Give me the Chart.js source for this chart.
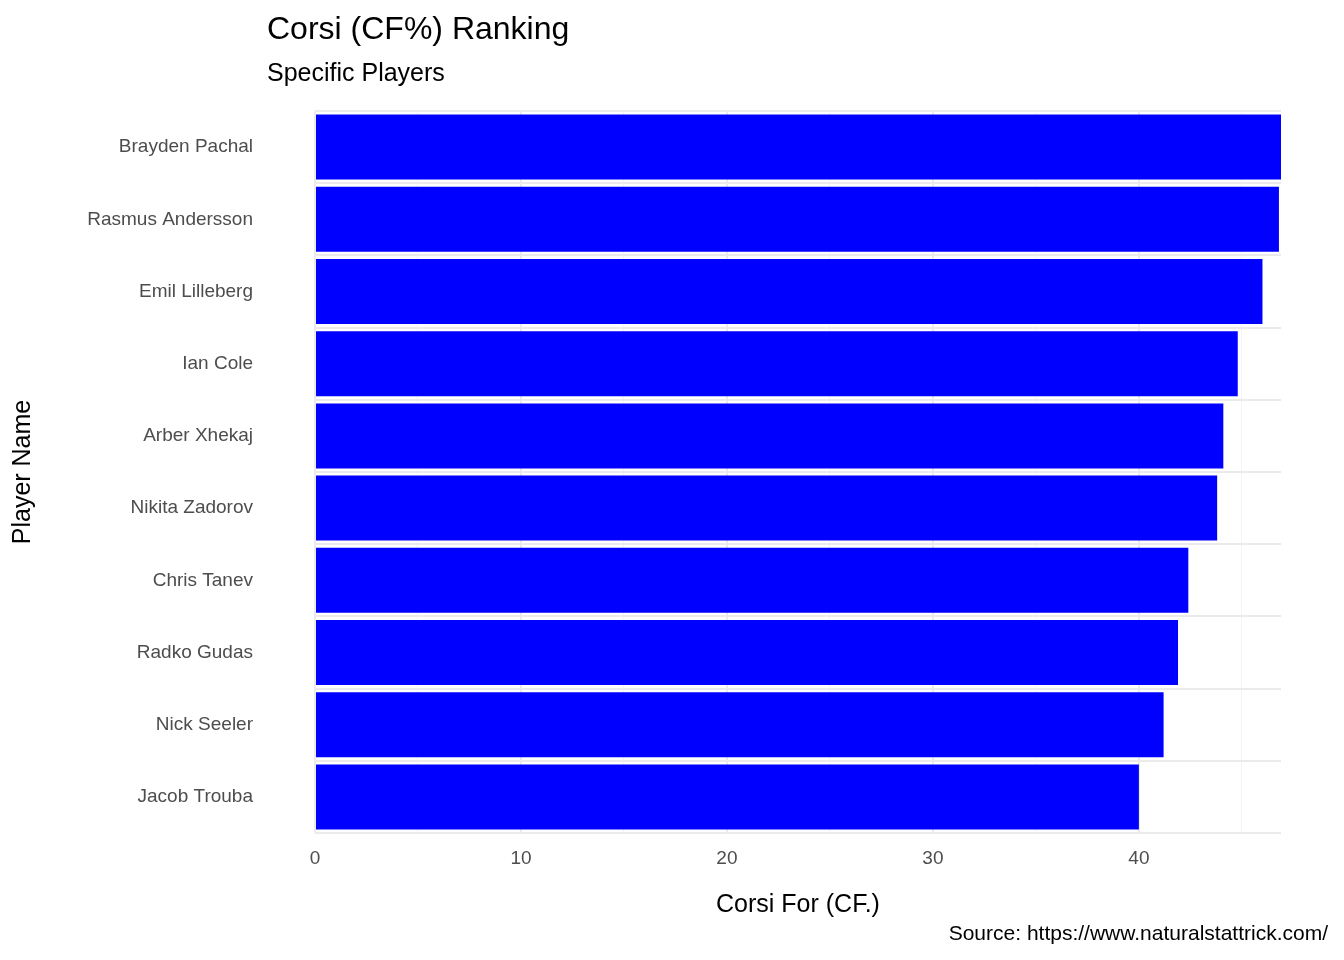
<!DOCTYPE html>
<html>
<head>
<meta charset="utf-8">
<script src="https://cdn.jsdelivr.net/npm/chart.js@4"></script>
<style>
  body { margin: 0; background: #fff; font-family: "Liberation Sans", Arial, sans-serif; }
  #wrap { position: relative; width: 1344px; height: 960px; }
  .txt { position: absolute; color: #000; white-space: nowrap; }
</style>
</head>
<body>
<div id="wrap">
  <canvas id="chart" width="1344" height="960"></canvas>
  <div class="txt" style="left:267px; top:10px; font-size:32px;">Corsi (CF%) Ranking</div>
  <div class="txt" style="left:267px; top:58px; font-size:25px;">Specific Players</div>
  <div class="txt" style="right:16px; top:921px; font-size:21px;">Source: https://www.naturalstattrick.com/</div>
</div>
<script>
// --- DATOS ---
const jugadores = ['Brayden Pachal', 'Rasmus Andersson', 'Emil Lilleberg', 'Ian Cole', 'Arber Xhekaj',
                   'Nikita Zadorov', 'Chris Tanev', 'Radko Gudas', 'Nick Seeler', 'Jacob Trouba'];
const corsiFor = [46.9, 46.8, 46.0, 44.8, 44.1, 43.8, 42.4, 41.9, 41.2, 40.0];
const ticksX = [0, 10, 20, 30, 40];

new Chart(document.getElementById('chart'), {
    type: 'bar',
    data: {
        labels: jugadores,
        datasets: [{
            data: corsiFor,
            backgroundColor: '#0000ff',
            barPercentage: 0.9,
            categoryPercentage: 1.0
        }]
    },
    options: {
        indexAxis: 'y',
        responsive: false,
        animation: false,
        layout: { padding: { top: 111, right: 63, bottom: 40, left: 8 } },
        plugins: { legend: { display: false }, tooltip: { enabled: false } },
        scales: {
            x: {
                min: 0,
                max: 46.9,
                afterFit: s => { s.height = 87; },
                afterBuildTicks: s => {
                    const t = [];
                    for (let v = 0; v <= 45; v += 5) t.push({ value: v });
                    s.ticks = t;
                },
                border: { display: false },
                grid: {
                    drawTicks: false,
                    color: c => (c.tick && ticksX.includes(c.tick.value)) ? '#ebebeb' : '#f4f4f4',
                    lineWidth: c => (c.tick && ticksX.includes(c.tick.value)) ? 2 : 1
                },
                ticks: {
                    padding: 14,
                    color: '#4d4d4d',
                    font: { size: 19, family: 'Liberation Sans' },
                    callback: v => ticksX.includes(v) ? v : ''
                },
                title: {
                    display: true,
                    text: 'Corsi For (CF.)',
                    color: '#000',
                    font: { size: 25, family: 'Liberation Sans' },
                    padding: { top: 4, bottom: 0 }
                }
            },
            y: {
                afterFit: s => { s.width = 307; },
                border: { display: false },
                grid: { drawTicks: false, color: '#ebebeb', lineWidth: 2 },
                ticks: {
                    padding: 62,
                    color: '#4d4d4d',
                    font: { size: 19, family: 'Liberation Sans' }
                },
                title: {
                    display: true,
                    text: 'Player Name',
                    color: '#000',
                    font: { size: 25, family: 'Liberation Sans' },
                    padding: 0
                }
            }
        }
    }
});
</script>
</body>
</html>
